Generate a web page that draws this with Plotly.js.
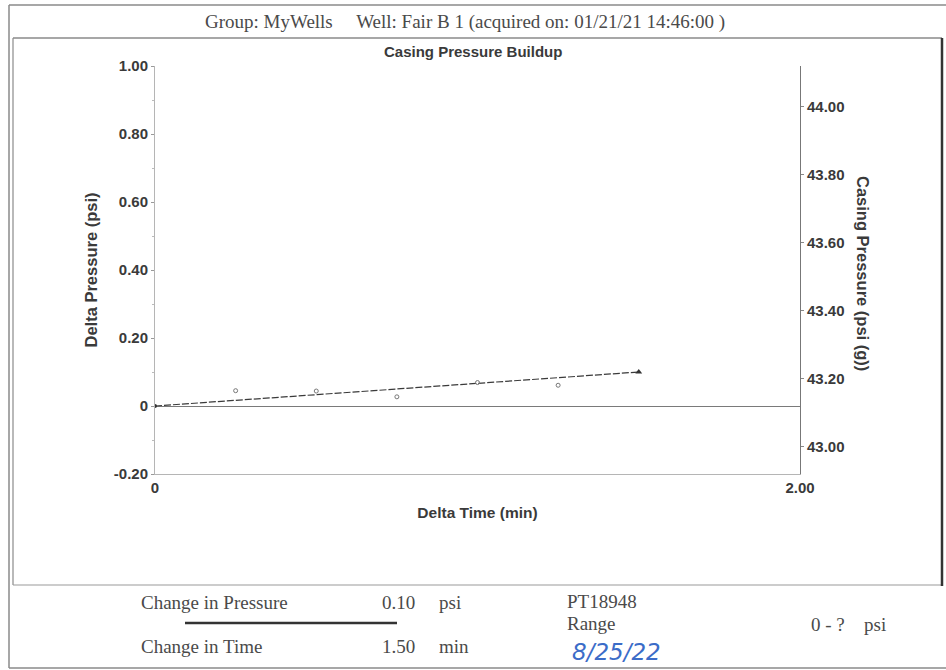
<!DOCTYPE html>
<html>
<head>
<meta charset="utf-8">
<script src="https://cdn.plot.ly/plotly-3.0.1.min.js"></script>
<style>
  html, body { margin: 0; padding: 0; background: #ffffff; }
  #chart { width: 946px; height: 670px; }
</style>
</head>
<body>
<div id="chart"></div>
<script>
// ---- data ----
const deltaTime = [0, 0.25, 0.50, 0.75, 1.00, 1.25, 1.50];          // min
const deltaPressure = [0, 0.045, 0.044, 0.027, 0.069, 0.061, 0.10];  // psi
const leftTicks = [-0.2, 0, 0.2, 0.4, 0.6, 0.8, 1.0];
const leftTickLabels = ['-0.20', '0', '0.20', '0.40', '0.60', '0.80', '1.00'];
const rightTicks = [43.0, 43.2, 43.4, 43.6, 43.8, 44.0];
const rightTickLabels = ['43.00', '43.20', '43.40', '43.60', '43.80', '44.00'];
const xTicks = [0, 2];
const xTickLabels = ['0', '2.00'];
const leftRange = [-0.2, 1.0];
const rightRange = [42.92, 44.12];
const xRange = [0, 2];

const headerText = 'Group: MyWells&nbsp;&nbsp;&nbsp;&nbsp; Well: Fair B 1 (acquired on: 01/21/21 14:46:00 )';
const chartTitle = 'Casing Pressure Buildup';
const changePressure = '0.10';
const changeTime = '1.50';
const sensorId = 'PT18948';
const rangeText = '0 - ?';
const handDate = '8/25/22';

// ---- layout helpers (pixel -> paper) ----
const W = 946, H = 670, L = 155, R = 800, T = 66, B = 474;
const px = x => (x - L) / (R - L);
const py = y => (B - y) / (B - T);

const n = deltaTime.length;
const midX = deltaTime.slice(1, n - 1);
const midY = deltaPressure.slice(1, n - 1);

const traces = [
  { // trend line first to last
    x: [deltaTime[0], deltaTime[n - 1]],
    y: [deltaPressure[0], deltaPressure[n - 1]],
    mode: 'lines', type: 'scatter',
    line: { color: '#3a3a3a', width: 1.2, dash: '7px,2px' },
    hoverinfo: 'skip', showlegend: false
  },
  { // intermediate readings
    x: midX, y: midY, mode: 'markers', type: 'scatter',
    marker: { symbol: 'circle-open', size: 4, color: '#777', line: { width: 1, color: '#777' } },
    showlegend: false
  },
  { // start point
    x: [deltaTime[0]], y: [deltaPressure[0]], mode: 'markers', type: 'scatter',
    marker: { symbol: 'circle', size: 4, color: '#333' }, showlegend: false
  },
  { // last point
    x: [deltaTime[n - 1]], y: [deltaPressure[n - 1]], mode: 'markers', type: 'scatter',
    marker: { symbol: 'triangle-up', size: 6, color: '#333' }, showlegend: false
  },
  { // ghost trace to display the right axis
    x: [null], y: [null], yaxis: 'y2', mode: 'markers', type: 'scatter',
    showlegend: false, hoverinfo: 'skip'
  }
];

const SANS = 'Liberation Sans, Arial, sans-serif';
const tickFont = { family: SANS, size: 15, color: '#3a3a3a', weight: 'bold' };
const xTitleFont = { family: SANS, size: 15.5, color: '#3a3a3a', weight: 'bold' };
const yTitleFont = { family: SANS, size: 16.5, color: '#3a3a3a', weight: 'bold' };
const mainTitleFont = { family: SANS, size: 15, color: '#3a3a3a', weight: 'bold' };
const serif = { family: 'Liberation Serif, Times New Roman, serif', size: 19, color: '#4a4a4a' };
const serifB = { family: 'Liberation Serif, Times New Roman, serif', size: 19, color: '#4a4a4a' };

function ann(text, x, y, font, xanchor, extra) {
  return Object.assign({
    text: text, xref: 'paper', yref: 'paper', x: px(x), y: py(y),
    xanchor: xanchor || 'left', yanchor: 'middle', showarrow: false, font: font
  }, extra || {});
}

const annotations = [
  ann(headerText, 465, 22, serif, 'center'),
  ann('<b>' + chartTitle + '</b>', 473, 52, mainTitleFont, 'center'),
  ann('<b>Casing Pressure (psi (g))</b>', 863, 273, yTitleFont, 'center', { textangle: 90 }),
  ann('Change in Pressure', 139, 602, serifB, 'left'),
  ann(changePressure, 417, 602, serifB, 'right'),
  ann('psi', 437, 602, serifB, 'left'),
  ann('Change in Time', 139, 646, serifB, 'left'),
  ann(changeTime, 417, 646, serifB, 'right'),
  ann('min', 437, 646, serifB, 'left'),
  ann(sensorId, 565, 601, serifB, 'left'),
  ann('Range', 565, 623, serifB, 'left'),
  ann(rangeText, 809, 624, serifB, 'left'),
  ann('psi', 862, 624, serifB, 'left'),
  ann(handDate, 570, 652, { family: 'DejaVu Sans, sans-serif', size: 23, color: '#3b6cc8', style: 'italic' }, 'left')
];

function line(x0, y0, x1, y1, color, width) {
  return { type: 'line', xref: 'paper', yref: 'paper', x0: px(x0), y0: py(y0), x1: px(x1), y1: py(y1),
           line: { color: color, width: width }, layer: 'above' };
}

const shapes = [
  line(9, 5, 946, 5, '#8a8a8a', 1.5),
  line(9, 5, 9, 668, '#8a8a8a', 1.5),
  line(9, 668, 946, 668, '#8a8a8a', 1.5),
  line(13, 38, 942, 38, '#8a8a8a', 1.5),
  line(13, 38, 13, 585, '#8a8a8a', 1.2),
  line(13, 585, 942, 585, '#9a9a9a', 1.2),
  line(942, 38, 942, 586, '#333', 2.5),
  line(185, 623, 397, 623, '#333', 2.5)
];

const layout = {
  width: W, height: H,
  margin: { l: L, r: W - R, t: T, b: H - B, pad: 0 },
  paper_bgcolor: '#ffffff', plot_bgcolor: '#ffffff',
  showlegend: false,
  xaxis: {
    range: xRange, tickvals: xTicks, ticktext: xTickLabels,
    showgrid: false, zeroline: false, showline: true, linecolor: '#b5b5b5', linewidth: 1,
    ticks: '', tickfont: tickFont, ticklabelstandoff: 0,
    title: { text: '<b>Delta Time (min)</b>', font: xTitleFont, standoff: 12 },
    fixedrange: true, automargin: false
  },
  yaxis: {
    range: leftRange, tickvals: leftTicks, ticktext: leftTickLabels,
    showgrid: false, zeroline: true, zerolinecolor: '#7a7a7a', zerolinewidth: 1,
    showline: true, linecolor: '#b5b5b5', linewidth: 1,
    ticks: 'outside', ticklen: 3, tickcolor: '#999',
    minor: { dtick: 0.1, ticks: 'outside', ticklen: 2, tickcolor: '#bbb' },
    tickfont: tickFont,
    title: { text: '<b>Delta Pressure (psi)</b>', font: yTitleFont, standoff: 12 },
    fixedrange: true, automargin: false
  },
  yaxis2: {
    overlaying: 'y', side: 'right', anchor: 'x',
    range: rightRange, tickvals: rightTicks, ticktext: rightTickLabels,
    showgrid: false, zeroline: false, showline: true, linecolor: '#777', linewidth: 1,
    ticks: 'outside', ticklen: 3, tickcolor: '#888', tickfont: tickFont,
    fixedrange: true, automargin: false
  },
  annotations: annotations,
  shapes: shapes
};

Plotly.newPlot('chart', traces, layout, { displayModeBar: false, staticPlot: true });
</script>
</body>
</html>
